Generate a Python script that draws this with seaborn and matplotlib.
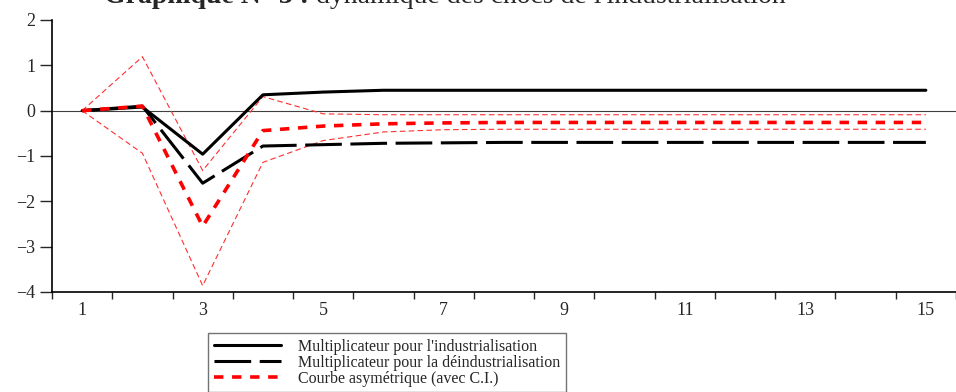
import numpy as np
import pandas as pd
import matplotlib
matplotlib.use("Agg")
import matplotlib.pyplot as plt
import seaborn as sns

# ==============================
# DATA
# ==============================
periods = list(range(1, 16))
indus = [0.0, 0.08, -0.96, 0.35, 0.41, 0.45, 0.45, 0.45, 0.45, 0.45, 0.45, 0.45, 0.45, 0.45, 0.45]
deindus = [0.0, 0.10, -1.60, -0.78, -0.75, -0.72, -0.71, -0.70, -0.70, -0.70, -0.70, -0.70, -0.70, -0.70, -0.70]
asym = [0.0, 0.10, -2.55, -0.44, -0.34, -0.29, -0.27, -0.26, -0.26, -0.26, -0.26, -0.26, -0.26, -0.26, -0.26]
ci_up = [0.0, 1.19, -1.32, 0.31, -0.07, -0.09, -0.09, -0.09, -0.09, -0.09, -0.09, -0.09, -0.09, -0.09, -0.09]
ci_low = [0.0, -0.94, -3.86, -1.14, -0.66, -0.47, -0.42, -0.41, -0.41, -0.41, -0.41, -0.41, -0.41, -0.41, -0.41]

labels = [
    "Multiplicateur pour l'industrialisation",
    "Multiplicateur pour la déindustrialisation",
    "Courbe asymétrique (avec C.I.)",
]
title_bold = "Graphique N° 3 :"
title_rest = " dynamique des chocs de l'industrialisation"

df = pd.DataFrame({
    "periode": periods,
    "indus": indus,
    "deindus": deindus,
    "asym": asym,
    "ci_up": ci_up,
    "ci_low": ci_low,
})

# ==============================
# FIGURE
# ==============================
sns.set_style("white")
plt.rcParams["font.family"] = ["Liberation Serif", "DejaVu Serif"]

fig = plt.figure(figsize=(9.56, 3.92), dpi=100)
ax = fig.add_axes([52 / 956, 1 - 292 / 392, 1 - 52 / 956, (292 - 20) / 392])

ax.axhline(0, color="#404040", lw=0.8, zorder=1)

sns.lineplot(data=df, x="periode", y="ci_up", ax=ax, color="#ff3030",
             lw=0.8, linestyle=(0, (5, 3)), zorder=2)
sns.lineplot(data=df, x="periode", y="ci_low", ax=ax, color="#ff3030",
             lw=0.8, linestyle=(0, (5, 3)), zorder=2)
sns.lineplot(data=df, x="periode", y="indus", ax=ax, color="black",
             lw=2.2, label=labels[0], zorder=3)
sns.lineplot(data=df, x="periode", y="deindus", ax=ax, color="black",
             lw=2.2, linestyle=(0, (12, 2.8)), label=labels[1], zorder=3)
sns.lineplot(data=df, x="periode", y="asym", ax=ax, color="#ff0000",
             lw=2.6, linestyle=(0, (2.6, 2.4)), label=labels[2], zorder=4)

# ==============================
# AXES
# ==============================
ax.set_xlim(0.5, 0.5 + (956 - 52) / 61)
ax.set_ylim(-4, 2)
ax.set_xlabel("")
ax.set_ylabel("")

ax.set_xticks(np.arange(0.5, 16, 1))
ax.set_xticklabels([])
ax.set_xticks(periods[::2], minor=True)
ax.set_xticklabels([str(p) for p in periods[::2]], minor=True, fontsize=13)
ax.tick_params(axis="x", which="major", direction="out", length=5, width=1, bottom=True)
ax.tick_params(axis="x", which="minor", length=0, pad=7)

ax.set_yticks([-4, -3, -2, -1, 0, 1, 2])
ax.set_yticklabels(["−4", "−3", "−2", "−1", "0", "1", "2"], fontsize=13)
ax.tick_params(axis="y", direction="out", length=9, width=1, left=True, pad=3)

for side in ["top", "right"]:
    ax.spines[side].set_visible(False)
for side in ["left", "bottom"]:
    ax.spines[side].set_color("black")
    ax.spines[side].set_linewidth(1.2)

# ==============================
# TITLE (cropped at top)
# ==============================
t1 = fig.text(104 / 956, 1.008, title_bold, fontsize=20, fontweight="bold",
              ha="left", va="center")
fig.canvas.draw()
bb = t1.get_window_extent()
fig.text(bb.x1 / fig.bbox.width, 1.008, title_rest, fontsize=20,
         ha="left", va="center")

# ==============================
# LEGEND
# ==============================
handles, _ = ax.get_legend_handles_labels()
leg = fig.legend(handles=handles, labels=labels, loc="upper left",
                 bbox_to_anchor=(208 / 956, 1 - 333 / 392), fontsize=11.5,
                 frameon=True, fancybox=False, handlelength=4.2,
                 handletextpad=1.1, borderpad=0.35, labelspacing=0.0,
                 borderaxespad=0)
leg.get_frame().set_edgecolor("#505050")
leg.get_frame().set_linewidth(1.0)
ax.get_legend().remove()

fig.savefig("out.png", dpi=100)
